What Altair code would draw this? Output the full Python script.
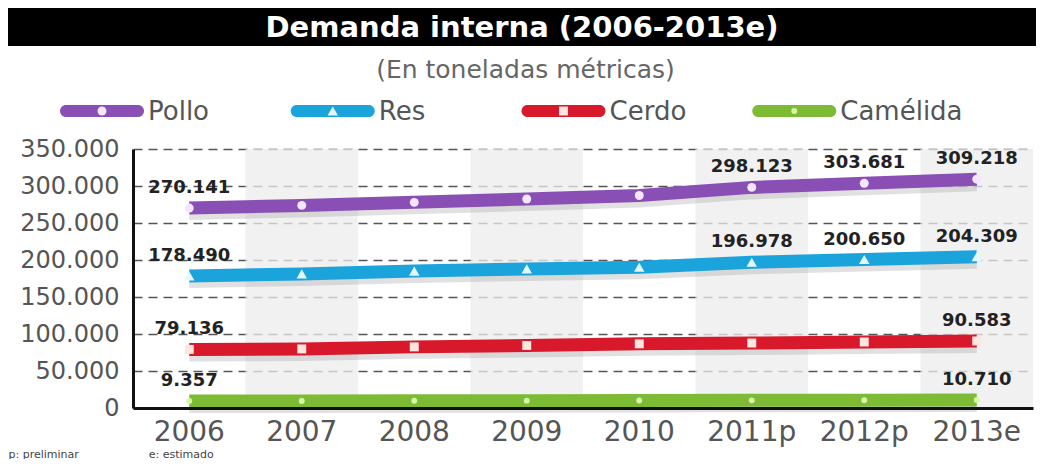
import altair as alt
import pandas as pd

# ---- data ----
years = ["2006", "2007", "2008", "2009", "2010", "2011p", "2012p", "2013e"]
series_names = ["Pollo", "Res", "Cerdo", "Camélida"]
pollo = [270141, 273800, 277900, 282400, 287200, 298123, 303681, 309218]
res = [178490, 181200, 185000, 188000, 190300, 196978, 200650, 204309]
cerdo = [79136, 79800, 82600, 84500, 86700, 87800, 89200, 90583]
camelida = [9357, 9550, 9740, 9930, 10130, 10330, 10520, 10710]
labelled_years = {
    "Pollo": ["2006", "2011p", "2012p", "2013e"],
    "Res": ["2006", "2011p", "2012p", "2013e"],
    "Cerdo": ["2006", "2013e"],
    "Camélida": ["2006", "2013e"],
}
shaded_years = ["2007", "2009", "2011p", "2013e"]
y_ticks = [0, 50000, 100000, 150000, 200000, 250000, 300000, 350000]

title_text = "Demanda interna (2006-2013e)"
subtitle_text = "(En toneladas métricas)"
footnote_text = "p: preliminar" + "\u00a0" * 20 + "e: estimado"

line_colors = ["#8A4FB4", "#1BA3DC", "#D8192B", "#7DBB35"]
marker_fills = ["#F3E6FF", "#E4F7FF", "#FFE6DE", "#D9F5A6"]
marker_shapes = ["circle", "triangle-up", "square", "circle"]
marker_sizes = [80, 110, 80, 35]

# ---- tables ----
rows = []
for name, vals in zip(series_names, [pollo, res, cerdo, camelida]):
    for yr, v in zip(years, vals):
        rows.append({"year": yr, "value": v, "series": name,
                     "show": yr in labelled_years[name]})
df = pd.DataFrame(rows)
shade_df = pd.DataFrame({"year": shaded_years})
legend_df = pd.DataFrame({"series": series_names})

AXIS_EXT = 125
PLOT_W = 900
PLOT_H = 259
BAR_W = 903
BAR_H = 38
LEG_H = 26
SYM_W = 84
LEG_RANGE = [-73, 850]
LEG_STEP = (LEG_RANGE[1] - LEG_RANGE[0]) / len(series_names)

color_scale = alt.Scale(domain=series_names, range=line_colors)

x_scale = alt.Scale(type="band", domain=years, paddingInner=0, paddingOuter=0)
x_axis = alt.Axis(
    title=footnote_text, titleFontSize=11, titleFont="DejaVu Sans",
    titleFontWeight="normal", titleColor="#444", titleX=-AXIS_EXT, titleY=46,
    titleAlign="left", titleBaseline="middle", titleAngle=0,
    labelFontSize=28, labelFont="DejaVu Sans", labelColor="#555",
    labelAlign="center", labelBaseline="top",
    labelPadding=10, ticks=False, domain=True, domainColor="#111",
    domainWidth=3, grid=False, labelAngle=0,
)
y_scale = alt.Scale(domain=[0, 350000], nice=False, zero=True)
y_axis = alt.Axis(
    values=y_ticks, format=",d", title=None, labelFontSize=24,
    labelFont="DejaVu Sans", labelColor="#555", labelPadding=14,
    labelOverlap=False, tickCount=8,
    ticks=False, domain=True, domainColor="#111", domainWidth=3,
    grid=True, gridDash=[9, 6], gridColor="#555", gridWidth=1.4,
    minExtent=AXIS_EXT, maxExtent=AXIS_EXT,
)


def xe():
    return alt.X("year:N", sort=years, bandPosition=0.5, scale=x_scale, axis=x_axis)


def ye():
    return alt.Y("value:Q", scale=y_scale, axis=y_axis)


shade = alt.Chart(shade_df).mark_rect(color="#ECECEC", opacity=0.75).encode(
    x=alt.X("year:N", sort=years, scale=x_scale, axis=x_axis),
    y=alt.YDatum(datum=350000, type="quantitative", scale=y_scale, axis=y_axis),
    y2=alt.Y2Datum(datum=0),
)

base = alt.Chart(df)

shadow = base.mark_line(strokeWidth=12, yOffset=6, color="#9a9a9a",
                        opacity=0.3, strokeCap="butt").encode(
    x=xe(), y=ye(), detail="series:N",
)

lines = base.mark_line(strokeWidth=13, strokeCap="butt").encode(
    x=xe(), y=ye(),
    color=alt.Color("series:N", sort=series_names, scale=color_scale, legend=None),
)

marker_layers = []
for name, shp, fil, sz in zip(series_names, marker_shapes, marker_fills, marker_sizes):
    marker_layers.append(
        base.transform_filter(alt.datum.series == name).mark_point(
            filled=True, shape=shp, fill=fil, size=sz, opacity=1, strokeWidth=0
        ).encode(x=xe(), y=ye())
    )

labels = base.transform_filter("datum.show").mark_text(
    fontSize=18, fontWeight="bold", font="DejaVu Sans", color="#222", dy=-20
).encode(
    x=xe(), y=ye(),
    text=alt.Text("value:Q", format=",d"),
)

main = alt.layer(shade, shadow, lines, *marker_layers, labels).properties(
    width=PLOT_W, height=PLOT_H,
)

# ---- legend row (entries placed by a band scale over the series) ----
leg_x_scale = alt.Scale(type="band", domain=series_names, range=LEG_RANGE,
                        paddingInner=0, paddingOuter=0)
leg_base = alt.Chart(legend_df)
leg_x = alt.X("series:N", sort=series_names, scale=leg_x_scale, axis=None, bandPosition=0)
# tick marks sit on the band centre, so shift them back to the band start
leg_sym = leg_base.mark_tick(orient="horizontal", size=SYM_W, thickness=12,
                             cornerRadius=6, xOffset=SYM_W / 2 - LEG_STEP / 2,
                             opacity=1).encode(
    x=alt.X("series:N", sort=series_names, scale=leg_x_scale, axis=None),
    y=alt.value(LEG_H / 2),
    color=alt.Color("series:N", scale=color_scale, legend=None),
)
leg_mark_layers = []
for name, shp, fil, sz in zip(series_names, marker_shapes, marker_fills, marker_sizes):
    leg_mark_layers.append(
        leg_base.transform_filter(alt.datum.series == name).mark_point(
            filled=True, shape=shp, fill=fil, size=sz, opacity=1, strokeWidth=0,
            xOffset=SYM_W / 2
        ).encode(x=leg_x, y=alt.value(LEG_H / 2))
    )
leg_text = leg_base.mark_text(align="left", baseline="middle", dx=SYM_W + 4,
                              fontSize=26, font="DejaVu Sans", color="#555").encode(
    x=leg_x, y=alt.value(LEG_H / 2 + 1), text="series:N",
)
legend_panel = alt.layer(leg_sym, *leg_mark_layers, leg_text).properties(
    width=BAR_W, height=LEG_H,
    title=alt.Title(subtitle_text, fontSize=25, font="DejaVu Sans",
                    fontWeight="normal", color="#666", offset=15,
                    anchor="middle", dx=-59),
)

# ---- black title bar (decoration), spanning the axis area as well as the plot ----
bar_df = pd.DataFrame({"t": [title_text]})
bar_rect = alt.Chart(bar_df).mark_rect(color="black").encode(
    x=alt.value(-AXIS_EXT), x2=alt.value(BAR_W), y=alt.value(0), y2=alt.value(BAR_H)
)
bar_text = alt.Chart(bar_df).mark_text(
    color="white", fontSize=29, fontWeight="bold", font="DejaVu Sans",
    baseline="middle", align="center",
).encode(text="t:N", x=alt.value((BAR_W - AXIS_EXT) / 2), y=alt.value(BAR_H / 2 + 1))
title_panel = alt.layer(bar_rect, bar_text).properties(width=BAR_W, height=BAR_H)

chart = alt.concat(title_panel, legend_panel, main, columns=1, spacing=12).resolve_scale(
    color="shared"
).properties(
    padding=0, background="white"
).configure(
    locale=alt.Locale(number=alt.NumberLocale(decimal=",", thousands=".",
                                              grouping=[3], currency=["", ""]))
).configure_view(stroke=None)

chart.save("out.html", embed_options={"renderer": "svg", "actions": False})
